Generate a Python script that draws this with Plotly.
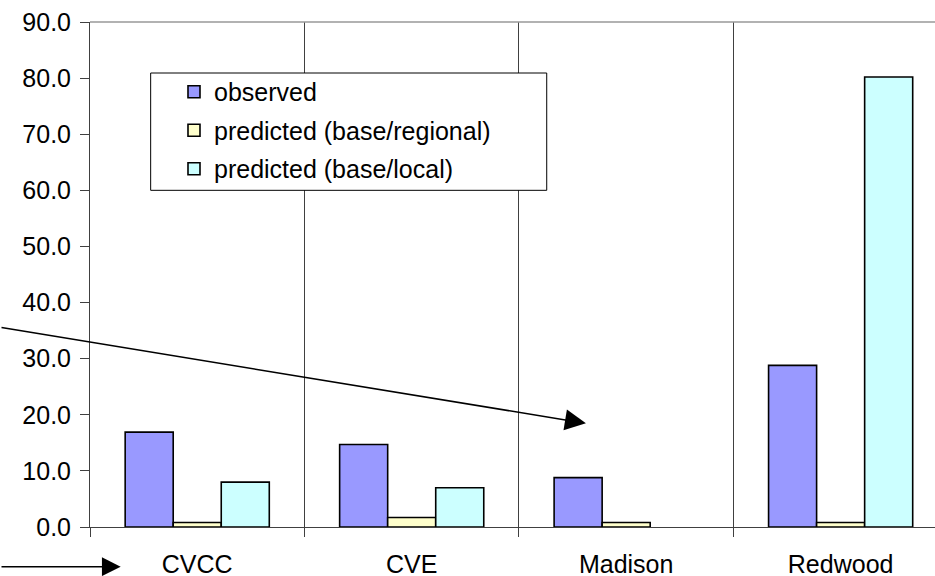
import plotly.graph_objects as go

categories = ["CVCC", "CVE", "Madison", "Redwood"]
observed = [16.9, 14.7, 8.8, 28.8]
predicted_regional = [0.8, 1.7, 0.8, 0.8]
predicted_local = [8.0, 7.0, None, 80.2]
y_ticks = [0, 10, 20, 30, 40, 50, 60, 70, 80, 90]

FONT = "Liberation Sans, Arial, sans-serif"
FS = 25

fig = go.Figure()
series = [
    ("observed", observed, "#9999FF"),
    ("predicted (base/regional)", predicted_regional, "#FFFFCC"),
    ("predicted (base/local)", predicted_local, "#CCFFFF"),
]
for i, (name, vals, col) in enumerate(series):
    fig.add_trace(go.Bar(
        x=categories, y=vals, name=name, legendgroup=f"g{i}",
        marker=dict(color=col, line=dict(color="#000000", width=1.6)),
    ))

fig.update_layout(
    width=935, height=576,
    margin=dict(l=90, r=0, t=22, b=49, autoexpand=False),
    paper_bgcolor="white", plot_bgcolor="white",
    barmode="group", bargap=0.328, bargroupgap=0,
    font=dict(family=FONT, size=FS, color="#000000"),
    showlegend=True,
    legend=dict(
        x=0.0994, y=0.907, xanchor="left", yanchor="top",
        bgcolor="rgba(0,0,0,0)", borderwidth=0,
        font=dict(family=FONT, size=FS, color="#000000"),
        tracegroupgap=3,
    ),
    xaxis=dict(
        type="category", range=[-0.5, 3.44], automargin=False,
        tickson="boundaries", ticks="outside", ticklen=9, tickcolor="#404040",
        showgrid=True, gridcolor="#404040", gridwidth=1,
        showline=True, linecolor="#404040", linewidth=1,
        ticklabelstandoff=15, ticklabeloverflow="allow",
        tickfont=dict(family=FONT, size=FS),
    ),
    yaxis=dict(
        range=[0, 90], tickvals=y_ticks, tickformat=".1f", automargin=False,
        ticks="outside", ticklen=9, tickcolor="#404040",
        showgrid=False, zeroline=False,
        showline=True, linecolor="#404040", linewidth=1,
        ticklabelstandoff=4, ticklabeloverflow="allow",
        tickfont=dict(family=FONT, size=FS),
    ),
    shapes=[
        dict(type="line", xref="paper", yref="paper", x0=0, x1=1, y0=1, y1=1,
             line=dict(color="#999999", width=1.5), layer="above"),
        dict(type="rect", xref="paper", yref="paper",
             x0=0.0718, x1=0.5405, y0=0.6667, y1=0.899,
             fillcolor="white", line=dict(color="#000000", width=1), layer="above"),
    ],
    annotations=[
        dict(x=0.5869, y=0.2053, xref="paper", yref="paper", text="", showarrow=True,
             ax=-600, ay=-96, axref="pixel", ayref="pixel",
             arrowhead=2, arrowsize=2.8, arrowwidth=1.5, arrowcolor="#000000", standoff=0),
        dict(x=0.0363, y=-0.0786, xref="paper", yref="paper", text="", showarrow=True,
             ax=-140, ay=0, axref="pixel", ayref="pixel",
             arrowhead=2, arrowsize=2.5, arrowwidth=1.5, arrowcolor="#000000", standoff=0),
    ],
)

fig.write_html("out.html", config={"displayModeBar": False},
               post_script="document.body.style.margin='0';")
